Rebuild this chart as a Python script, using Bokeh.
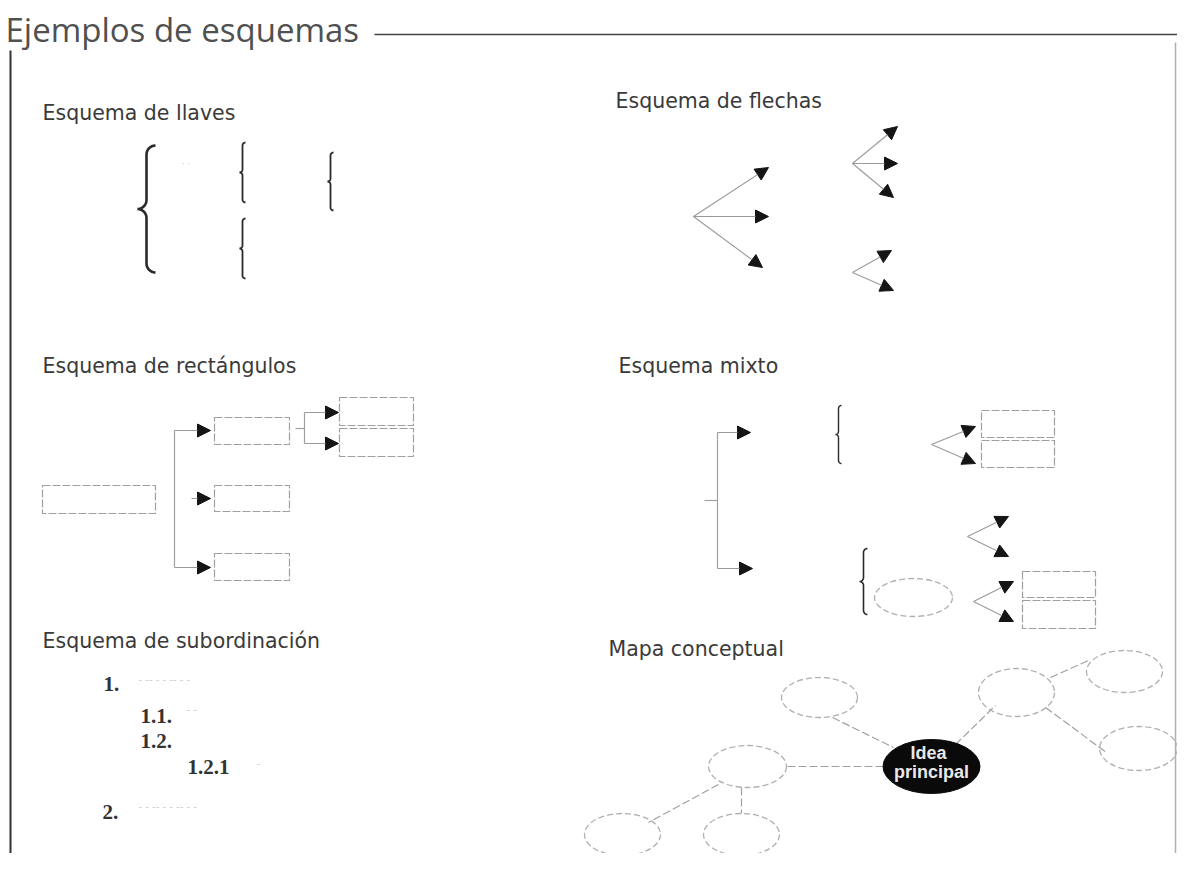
import numpy as np
from bokeh.plotting import figure
from bokeh.models import Range1d, ColumnDataSource, Arrow, NormalHead
from bokeh.core.properties import value
from bokeh.embed import file_html
from bokeh.resources import INLINE

# ---------------- data (reference pixel coordinates) ----------------
title_text = "Ejemplos de esquemas"
title_xy = [5, 29]

section_titles = ["Esquema de llaves", "Esquema de flechas", "Esquema de rectángulos",
                  "Esquema mixto", "Esquema de subordinación", "Mapa conceptual"]
section_x = [42, 615, 42, 618, 42, 608]
section_y = [112, 100, 365, 365, 640, 648]

# frame lines: x0, y0, x1, y1
frame_x0 = [374, 10, 1175]
frame_y0 = [34, 50, 42]
frame_x1 = [1177, 10, 1175]
frame_y1 = [34, 869, 869]
frame_color = ["#444444", "#333333", "#b0b0b0"]
frame_width = [1.5, 2.0, 1.5]

# braces: x, top, bottom, curl size, width
brace_x = [146, 242, 242, 330, 838, 863]
brace_top = [145, 142, 218, 152, 405, 548]
brace_bot = [272, 202, 278, 210, 463, 614]
brace_r = [9, 3, 3, 3, 3, 4]
brace_w = [2.6, 1.8, 1.8, 1.8, 1.4, 1.6]

# arrows: start -> end
arrow_x0 = [693, 693, 693, 852, 852, 852, 852, 852,
            174, 191, 174, 304, 304,
            717, 717, 931, 931, 967, 967, 973, 973]
arrow_y0 = [216, 216, 216, 163, 163, 163, 272, 272,
            430, 498, 567, 412, 443,
            432, 568, 444, 444, 536, 536, 601, 601]
arrow_x1 = [768, 768, 762, 897, 897, 893, 891, 893,
            210, 210, 210, 338, 338,
            750, 752, 975, 975, 1008, 1008, 1013, 1013]
arrow_y1 = [167, 216, 267, 126, 163, 197, 250, 290,
            430, 498, 567, 412, 443,
            432, 568, 426, 463, 516, 556, 581, 621]

# rectangles: left, top, right, bottom
rect_l = [42, 214, 214, 214, 339, 339, 981, 981, 1022, 1022]
rect_t = [485, 417, 485, 553, 397, 428, 410, 440, 571, 600]
rect_r = [155, 289, 289, 289, 413, 413, 1054, 1054, 1095, 1095]
rect_b = [513, 444, 511, 580, 425, 456, 437, 467, 597, 628]

# connector lines
conn_x0 = [174, 295, 304, 717, 704]
conn_y0 = [430, 428, 412, 432, 500]
conn_x1 = [174, 304, 304, 717, 717]
conn_y1 = [567, 428, 443, 568, 500]

# ellipses (outline): center x, center y, width, height
ell_x = [913, 819, 1016, 1124, 1138, 747, 622, 741]
ell_y = [597, 697, 692, 671, 748, 766, 834, 834]
ell_w = [78, 76, 76, 76, 78, 78, 76, 76]
ell_h = [38, 40, 48, 42, 44, 42, 42, 42]

# concept-map links
link_x0 = [832, 955, 1050, 1045, 787, 718, 741]
link_y0 = [717, 744, 677, 707, 766, 784, 787]
link_x1 = [893, 995, 1090, 1106, 882, 648, 741]
link_y1 = [747, 705, 659, 752, 766, 822, 813]

# main idea
idea_xy = [931, 766]
idea_size = [97, 54]
idea_lines = ["Idea", "principal"]
idea_text_x = [928, 931]
idea_text_y = [752, 771]

# subordination list
sub_labels = ["1.", "1.1.", "1.2.", "1.2.1", "2."]
sub_x = [103, 140, 140, 187, 102]
sub_y = [683, 715, 740, 766, 811]

# faint marks (llaves / subordination)
faint_text = ["·      ·", "- -- -      - -- -   -", "- -", "-", "- - -- -    - -- -   -"]
faint_x = [181, 138, 186, 256, 138]
faint_y = [163, 679, 709, 762, 806]

# ---------------- figure ----------------
W, H = 1177, 853
p = figure(width=W, height=H, x_range=Range1d(0, W), y_range=Range1d(H, 0),
           output_backend="svg", toolbar_location=None,
           x_axis_type=None, y_axis_type=None, min_border=0)
p.outline_line_color = None
p.background_fill_color = "white"
p.border_fill_color = "white"

# title + frame
p.text(x=[title_xy[0]], y=[title_xy[1]], text=[title_text],
       text_font=value("Open Sans"), text_font_size="33px", text_color="#505050",
       text_baseline="alphabetic")
p.segment(x0=frame_x0, y0=frame_y0, x1=frame_x1, y1=frame_y1,
          line_color=frame_color, line_width=frame_width)

# section titles
p.text(x=section_x, y=section_y, text=section_titles,
       text_font=value("DejaVu Sans"), text_font_size="20.5px", text_color="#3a3a3a",
       text_baseline="alphabetic")

# braces
def brace_path(x, y0, y1, r):
    mid = (y0 + y1) / 2.0
    xs, ys = [], []
    def arc(cx, cy, a0, a1):
        t = np.radians(np.linspace(a0, a1, 10))
        xs.extend(cx + r * np.cos(t))
        ys.extend(cy + r * np.sin(t))
    arc(x + r, y0 + r, -90, -180)
    arc(x - r, mid - r, 0, 90)
    arc(x - r, mid + r, -90, 0)
    arc(x + r, y1 - r, 180, 90)
    return list(xs), list(ys)

bx, by = [], []
for x, t, b, r in zip(brace_x, brace_top, brace_bot, brace_r):
    xs, ys = brace_path(x, t, b, r)
    bx.append(xs)
    by.append(ys)
p.multi_line(xs=bx, ys=by, line_color="#2a2a2a", line_width=brace_w)

# rectangles
p.quad(left=rect_l, right=rect_r, top=rect_t, bottom=rect_b,
       fill_color=None, line_color="#a0a0a0", line_width=1.2, line_dash="8 2")

# connectors
p.segment(x0=conn_x0, y0=conn_y0, x1=conn_x1, y1=conn_y1,
          line_color="#a0a0a0", line_width=1.2)

# arrows
asrc = ColumnDataSource(dict(x0=arrow_x0, y0=arrow_y0, x1=arrow_x1, y1=arrow_y1))
p.add_layout(Arrow(end=NormalHead(size=13, fill_color="#151515", line_color="#151515"),
                   x_start="x0", y_start="y0", x_end="x1", y_end="y1", source=asrc,
                   line_color="#9a9a9a", line_width=1.1))

# concept map
p.segment(x0=link_x0, y0=link_y0, x1=link_x1, y1=link_y1,
          line_color="#a0a0a0", line_width=1.2, line_dash="8 3")
p.ellipse(x=ell_x, y=ell_y, width=ell_w, height=ell_h,
          fill_color=None, line_color="#b0b0b0", line_width=1.3, line_dash="6 3")
p.ellipse(x=[idea_xy[0]], y=[idea_xy[1]], width=[idea_size[0]], height=[idea_size[1]],
          fill_color="#0a0a0a", line_color="#0a0a0a")
p.text(x=idea_text_x, y=idea_text_y, text=idea_lines,
       text_font=value("Liberation Sans"), text_font_size="18px", text_font_style="bold",
       text_color="#e8e8e8", text_align="center", text_baseline="alphabetic")

# subordination
p.text(x=sub_x, y=sub_y, text=sub_labels,
       text_font=value("Liberation Serif"), text_font_size="21px", text_font_style="bold",
       text_color="#333333", text_baseline="alphabetic")
p.text(x=faint_x, y=faint_y, text=faint_text,
       text_font=value("DejaVu Sans"), text_font_size="10px",
       text_color="#cfcfcf", text_baseline="middle")

open("out.html", "w").write(file_html(p, INLINE))
